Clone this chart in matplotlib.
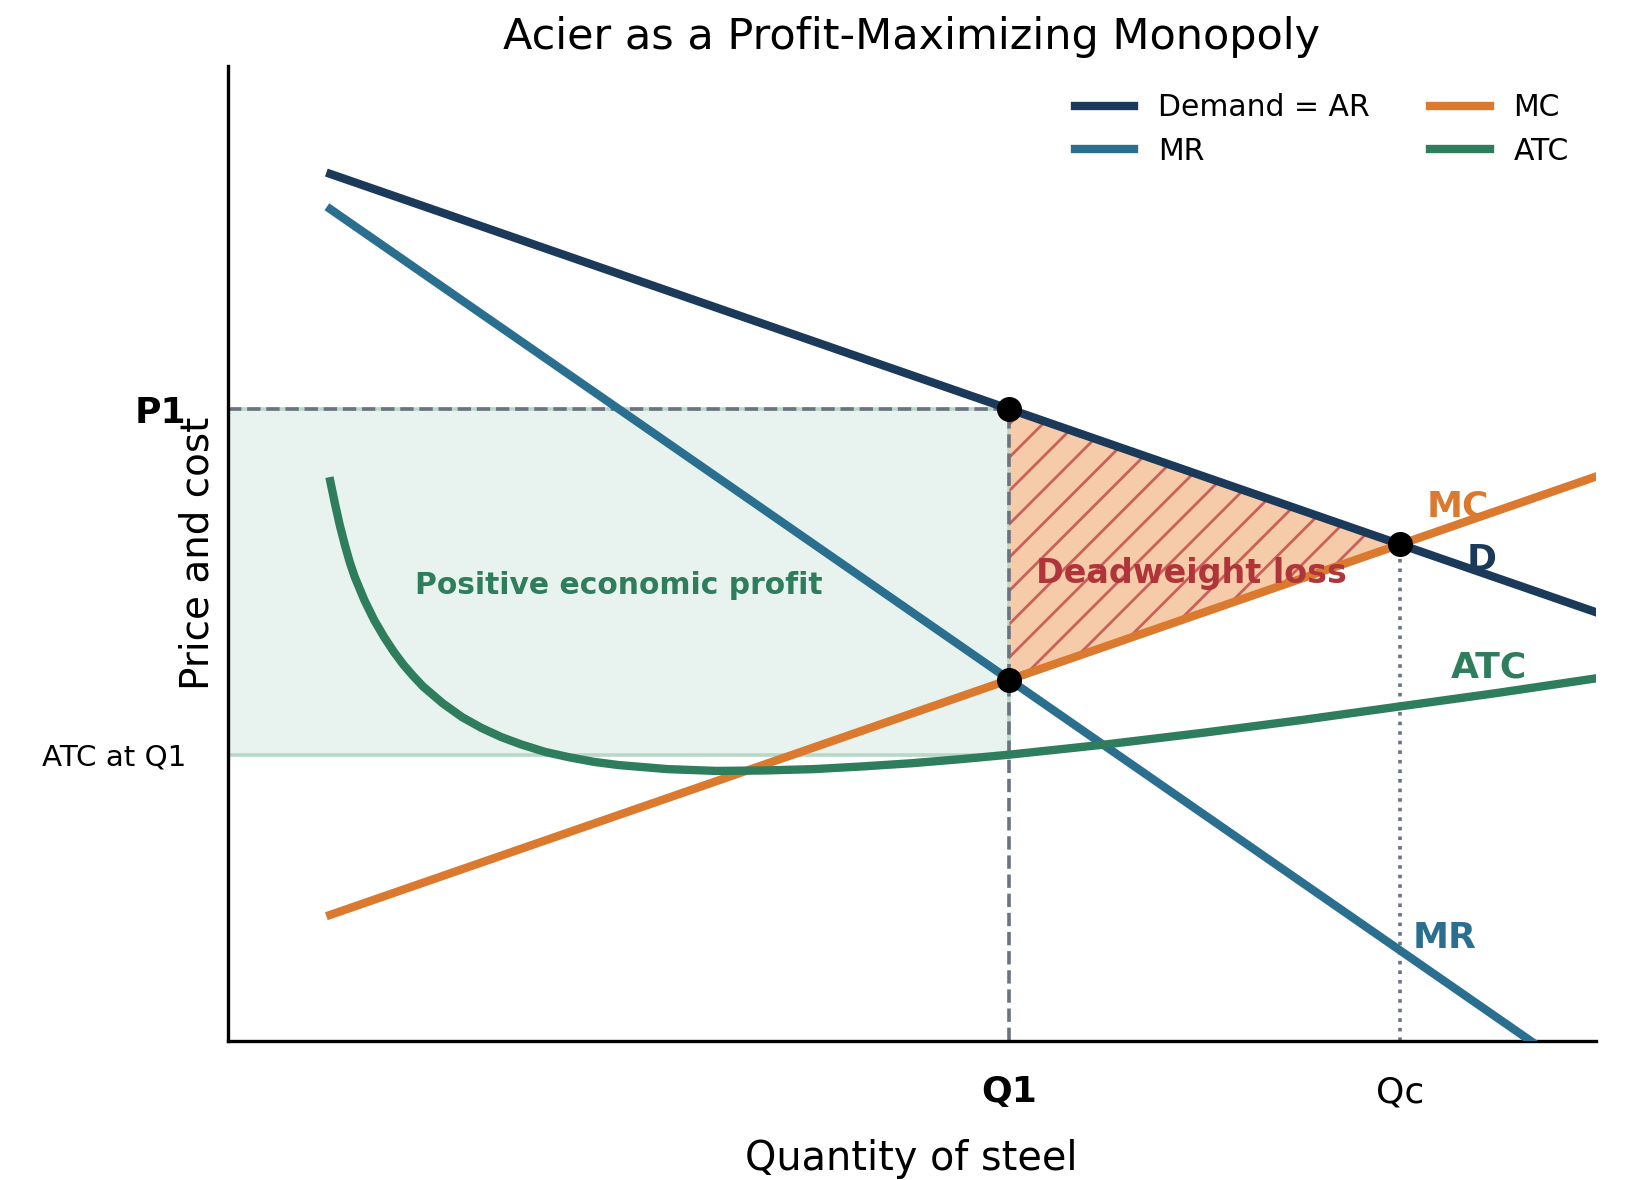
import matplotlib
matplotlib.use("Agg")
import matplotlib.pyplot as plt
from matplotlib.patches import Rectangle
import numpy as np

# values
q_line = [1.05, 14]
demand = [19.21, 9.5]
mr = [18.43, -1.0]
mc = [2.79, 12.5]

q_atc = [1.05, 1.1, 1.15, 1.2, 1.25, 1.3, 1.4, 1.5, 1.6, 1.7, 1.8, 1.9, 2.0, 2.2, 2.4, 2.6,
         2.8, 3.0, 3.25, 3.5, 3.75, 4, 4.5, 5, 5.5, 6, 6.5, 7, 7.5, 8, 9, 10, 11, 12, 13, 14]
atc = [12.4, 11.88, 11.4, 10.98, 10.6, 10.28, 9.76, 9.32, 8.95, 8.62, 8.33, 8.08, 7.85,
       7.48, 7.17, 6.93, 6.73, 6.57, 6.40, 6.28, 6.18, 6.11, 6.02, 5.98, 5.99, 6.02, 6.08,
       6.15, 6.24, 6.34, 6.57, 6.83, 7.11, 7.41, 7.71, 8.03]

q1 = 8
qc = 12
p1 = 14
mc_q1 = 8
pc = 11
atc_q1 = 6.34

x_ticks = [q1, qc]
x_tick_labels = ["Q1", "Qc"]
y_ticks = [atc_q1, p1]
y_tick_labels = ["ATC at Q1", "P1"]

c_dem = "#1b3a5a"
c_mr = "#2a6f8f"
c_mc = "#db7a2e"
c_atc = "#2e7d5c"
c_guide = "#6b7280"

fig = plt.figure(figsize=(8.25, 5.9), dpi=200)
ax = fig.add_axes([0.138, 0.118, 0.829, 0.826])

# profit rectangle
ax.add_patch(Rectangle((0, atc_q1), q1, p1 - atc_q1, facecolor="#e8f2ee",
                       edgecolor="#b8d8c8", lw=1.3, zorder=1))

# deadweight loss triangle
ax.fill_between([q1, qc], [p1, pc], [mc_q1, pc], facecolor="#f5cba9",
                edgecolor="#c9615a", hatch="//", lw=0, zorder=1)

# guide lines
ax.plot([0, q1], [p1, p1], "--", color=c_guide, lw=1.3, zorder=2)
ax.plot([q1, q1], [0, p1], "--", color=c_guide, lw=1.3, zorder=2)
ax.plot([qc, qc], [0, pc], ":", color=c_guide, lw=1.3, zorder=2)

ax.plot(q_line, demand, color=c_dem, lw=3, label="Demand = AR", zorder=4)
ax.plot(q_line, mr, color=c_mr, lw=3, label="MR", zorder=4)
ax.plot(q_line, mc, color=c_mc, lw=3, label="MC", zorder=4)
ax.plot(q_atc, atc, color=c_atc, lw=3, label="ATC", zorder=4)

ax.plot([q1, q1, qc], [p1, mc_q1, pc], "o", color="black", ms=8, zorder=6)

ax.text(4.0, 10.1, "Positive economic profit", color=c_atc, fontsize=10.7,
        fontweight="bold", ha="center", va="center", zorder=5)
ax.text(9.86, 10.35, "Deadweight loss", color="#b0353a", fontsize=12,
        fontweight="bold", ha="center", va="center", zorder=5)
ax.text(12.59, 11.85, "MC", color=c_mc, fontsize=13, fontweight="bold", ha="center", va="center")
ax.text(12.83, 10.65, "D", color=c_dem, fontsize=13, fontweight="bold", ha="center", va="center")
ax.text(12.91, 8.28, "ATC", color=c_atc, fontsize=13, fontweight="bold", ha="center", va="center")
ax.text(12.45, 2.27, "MR", color=c_mr, fontsize=13, fontweight="bold", ha="center", va="center")

ax.set_xlim(0, 14)
ax.set_ylim(0, 21.6)
ax.spines["top"].set_visible(False)
ax.spines["right"].set_visible(False)
ax.spines["left"].set_linewidth(1.2)
ax.spines["bottom"].set_linewidth(1.2)

ax.set_xticks(x_ticks)
ax.set_xticklabels(x_tick_labels, fontsize=13)
ax.get_xticklabels()[0].set_fontweight("bold")
ax.set_yticks(y_ticks)
ax.set_yticklabels(y_tick_labels, fontsize=10.6)
ax.get_yticklabels()[1].set_fontweight("bold")
ax.get_yticklabels()[1].set_fontsize(13)
ax.tick_params(axis="x", length=0, pad=12.5)
ax.tick_params(axis="y", length=0, pad=15)

ax.set_xlabel("Quantity of steel", fontsize=14.3, labelpad=10.5)
ax.set_ylabel("Price and cost", fontsize=14)
ax.yaxis.set_label_coords(-0.008, 0.5)
ax.set_title("Acier as a Profit-Maximizing Monopoly", fontsize=15.5)

ax.legend(loc="upper right", ncol=2, frameon=False, fontsize=10.75, handlelength=2.0)

fig.savefig("out.png", dpi=200)
